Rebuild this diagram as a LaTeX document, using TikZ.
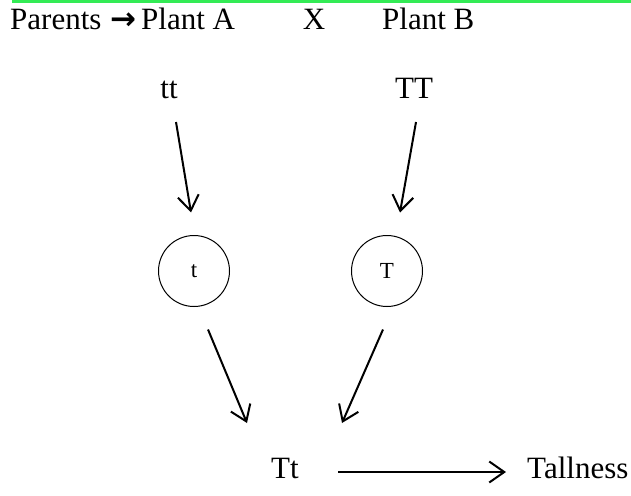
\documentclass[tikz,border=0pt]{standalone}
\usepackage{fontspec}
\setmainfont{Liberation Serif}
\newfontfamily\arrowfont{DejaVu Sans}
\usetikzlibrary{arrows.meta,calc}
\definecolor{rulegreen}{RGB}{51,235,85}
\begin{document}
\begin{tikzpicture}[x=1pt,y=-1pt,
  txt/.style={font=\fontsize{31}{36}\selectfont, inner sep=0pt, anchor=base},
  gamete/.style={circle, draw, line width=1pt, minimum size=71pt, inner sep=0pt,
    font=\fontsize{23}{27}\selectfont},
  arr/.style={line width=2pt, -{Straight Barb[length=15pt,width=21pt,line width=2pt]}}]
\useasboundingbox (0,0) rectangle (631,495);

% top rule
\draw[rulegreen, line width=3pt] (12,1.5) -- (631,1.5);

% heading
\node[txt, anchor=base west] (parents) at (10,30) {Parents};
\node[txt, anchor=base west] (harrow) at (110,30) {\arrowfont\bfseries →};
\node[txt, anchor=base west] (plantA) at (141,30) {Plant A};
\node[txt] (cross) at (314,30) {X};
\node[txt, anchor=base west] (plantB) at (382,30) {Plant B};

% parent genotypes
\node[txt] (tt) at (169,98) {tt};
\node[txt] (TT) at (414,98) {TT};

% gametes
\node[gamete] (t) at (194,271) {t\hspace{6pt}};
\node[gamete] (T) at (387,271) {T\hspace{3pt}};

% offspring
\node[txt] (Tt) at (285,478) {Tt};
\node[txt, anchor=base west] (tall) at (527,478) {Tallness};

% connectors
\draw[arr] ($(tt.base)+(7,24)$) -- ($(t.north)+(-3,-22.5)$);
\draw[arr] ($(TT.base)+(2,24)$) -- ($(T.north)+(13,-22.5)$);
\draw[arr] ($(t.south)+(14,22.5)$) -- ($(Tt.base)+(-38,-55)$);
\draw[arr] ($(T.south)+(-4,22.5)$) -- ($(Tt.base)+(57,-55)$);
\draw[arr] ($(Tt.base)+(53,-6)$) -- ($(tall.base west)+(-21,-6)$);
\end{tikzpicture}
\end{document}
